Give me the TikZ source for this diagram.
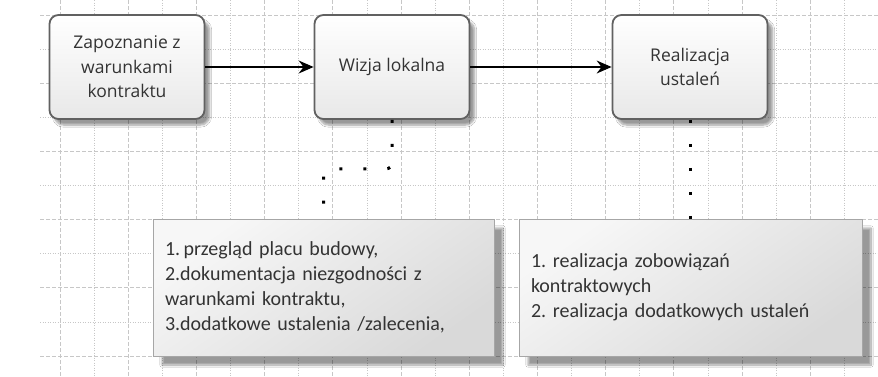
\documentclass[tikz,border=0pt]{standalone}
\usepackage{fontspec}
\setmainfont{Open Sans}
\newfontfamily\notefont[WordSpace=0.85]{Carlito}
\usetikzlibrary{arrows.meta,shadows.blur}
\frenchspacing
\begin{document}
\begin{tikzpicture}[x=1pt,y=-1pt,
  gridA/.style={draw=black!22,line width=0.7pt,dash pattern=on 4pt off 2pt},
  gridB/.style={draw=black!22,line width=0.7pt,dash pattern=on 1pt off 1.5pt},
  procbox/.style={draw=black!62,line width=1.8pt,rounded corners=9pt,
    top color=white,bottom color=black!9,minimum width=155pt,minimum height=104pt,
    inner sep=0pt,align=center,font=\fontsize{17.5}{24.5}\selectfont,text=black!80,
    blur shadow={shadow xshift=5pt,shadow yshift=-6pt,shadow blur steps=8,shadow opacity=40}},
  notebox/.style={draw=black!35,line width=0.8pt,shading=axis,top color=black!3,bottom color=black!15,
    shading angle=35,minimum height=137pt,inner xsep=12pt,inner ysep=0pt,align=left,
    font=\notefont\frenchspacing\fontsize{20}{25}\selectfont,text=black!80,
    blur shadow={shadow xshift=9pt,shadow yshift=-9pt,shadow blur steps=10,shadow opacity=40}},
  flow/.style={line width=1.2pt,-{Stealth[length=15pt,width=13pt,inset=5pt]}},
  assoc/.style={line width=3pt,line cap=butt,rounded corners=6pt,dash pattern=on 3pt off 21pt}
]
\fill[white] (0,0) rectangle (878,376);
\useasboundingbox (0,0) rectangle (878,376);
% grid
\foreach \y in {15,83.2,151.4,219.6,287.8,356} \draw[gridA] (40,\y) -- (878,\y);
\foreach \y in {49.1,117.3,185.5,253.7,321.9} \draw[gridB] (40,\y) -- (878,\y);
\foreach \x in {60,128.2,196.4,264.6,332.8,401,469.2,537.4,605.6,673.8,742,810.2} \draw[gridA] (\x,0) -- (\x,376);
\foreach \x in {94.1,162.3,230.5,298.7,366.9,435.1,503.3,571.5,639.7,707.9,776.1,844.3} \draw[gridB] (\x,0) -- (\x,376);
% process boxes
\node[procbox] (b1) at (127,67) {Zapoznanie z\\warunkami\\kontraktu};
\node[procbox] (b2) at (392,67) {Wizja lokalna};
\node[procbox] (b3) at (690,67) {Realizacja\\ustaleń};
% notes
\node[notebox,text width=317pt] (n1) at (323.5,287.5) {1.\,przegląd placu budowy,\\2.dokumentacja niezgodności z\\warunkami kontraktu,\\3.dodatkowe ustalenia /zalecenia,};
\node[notebox,text width=319pt] (n2) at (690.5,287.5) {1. realizacja zobowiązań\\kontraktowych\\2. realizacja dodatkowych ustaleń};
% connectors
\draw[flow] (b1) -- (b2);
\draw[flow] (b2) -- (b3);
\draw[assoc] (b2.south) -- ++(0,49) -| (n1.north);
\draw[assoc] (b3.south) -- (b3.south |- n2.north);
\end{tikzpicture}
\end{document}
